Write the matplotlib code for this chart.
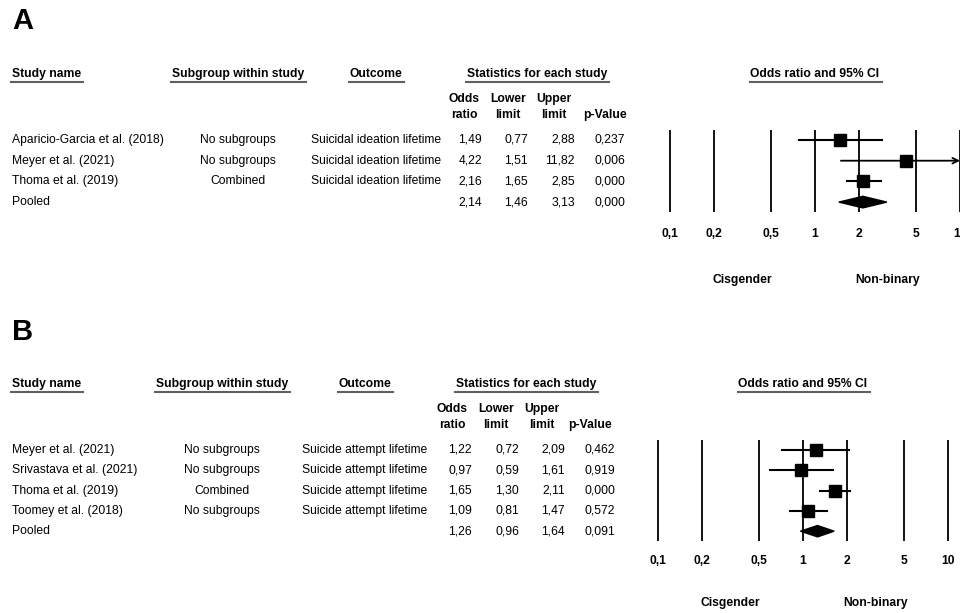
import numpy as np
import matplotlib.pyplot as plt
from matplotlib.patches import Polygon

plt.rcParams['font.family'] = ['Liberation Sans', 'DejaVu Sans']

# Panel A: suicidal ideation
a_studies = ['Aparicio-Garcia et al. (2018)', 'Meyer et al. (2021)', 'Thoma et al. (2019)']
a_subgroups = ['No subgroups', 'No subgroups', 'Combined']
a_outcomes = ['Suicidal ideation lifetime'] * 3
a_or = [1.49, 4.22, 2.16]
a_lower = [0.77, 1.51, 1.65]
a_upper = [2.88, 11.82, 2.85]
a_p = [0.237, 0.006, 0.000]
a_pooled = [2.14, 1.46, 3.13, 0.000]

# Panel B: suicide attempt
b_studies = ['Meyer et al. (2021)', 'Srivastava et al. (2021)', 'Thoma et al. (2019)',
             'Toomey et al. (2018)']
b_subgroups = ['No subgroups', 'No subgroups', 'Combined', 'No subgroups']
b_outcomes = ['Suicide attempt lifetime'] * 4
b_or = [1.22, 0.97, 1.65, 1.09]
b_lower = [0.72, 0.59, 1.30, 0.81]
b_upper = [2.09, 1.61, 2.11, 1.47]
b_p = [0.462, 0.919, 0.000, 0.572]
b_pooled = [1.26, 0.96, 1.64, 0.091]

ticks = [0.1, 0.2, 0.5, 1, 2, 5, 10]
tick_labels = ['0,1', '0,2', '0,5', '1', '2', '5', '10']
x_max = 10

W, H = 960, 613
FS = 8.7

fig = plt.figure(figsize=(W / 100, H / 100), dpi=100)
bg = fig.add_axes([0, 0, 1, 1])
bg.set_xlim(0, W)
bg.set_ylim(H, 0)
bg.axis('off')

underlined = []


def fmt(v, nd=2):
    return f'{v:.{nd}f}'.replace('.', ',')


def header(x, y, s, ha='left'):
    t = bg.text(x, y, s, ha=ha, va='center', fontsize=FS, fontweight='bold')
    underlined.append((t, y + 8))


def draw_panel(letter, lay, studies, subgroups, outcomes, ors, lows, highs, ps, pooled):
    bg.text(12, lay['letter_y'], letter, fontsize=21, fontweight='bold', va='center')

    hy = lay['head_y']
    header(12, hy, 'Study name')
    header(lay['sub_x'], hy, 'Subgroup within study', ha='center')
    header(lay['out_x'], hy, 'Outcome', ha='center')
    header(lay['stat_x'], hy, 'Statistics for each study', ha='center')

    sub1, sub2 = lay['sub_y']
    for cx, top, bot in zip(lay['col_head_x'],
                            ['Odds', 'Lower', 'Upper', ''],
                            ['ratio', 'limit', 'limit', 'p-Value']):
        bg.text(cx, sub1, top, ha='center', va='center', fontsize=FS, fontweight='bold')
        bg.text(cx, sub2, bot, ha='center', va='center', fontsize=FS, fontweight='bold')

    rows = [lay['row0'] + i * lay['step'] for i in range(len(studies) + 1)]
    names = studies + ['Pooled']
    for i, y in enumerate(rows):
        bg.text(12, y, names[i], va='center', fontsize=FS)
        if i < len(studies):
            bg.text(lay['sub_x'], y, subgroups[i], ha='center', va='center', fontsize=FS)
            bg.text(lay['out_x'], y, outcomes[i], ha='center', va='center', fontsize=FS)
            vals = [fmt(ors[i]), fmt(lows[i]), fmt(highs[i]), fmt(ps[i], 3)]
        else:
            vals = [fmt(pooled[0]), fmt(pooled[1]), fmt(pooled[2]), fmt(pooled[3], 3)]
        for rx, v in zip(lay['col_right'], vals):
            bg.text(rx, y, v, ha='right', va='center', fontsize=FS)

    # forest plot on a log axis, 0.1 placed at lay['x01'], one decade = lay['dec'] px
    left = 630
    lo_lim = 10 ** (-1 - (lay['x01'] - left) / lay['dec'])
    hi_lim = 10 ** (-1 + (W - lay['x01']) / lay['dec'])
    top, bottom = lay['panel']
    ax = fig.add_axes([left / W, 1 - bottom / H, (W - left) / W, (bottom - top) / H])
    ax.set_xscale('log')
    ax.set_xlim(lo_lim, hi_lim)
    ax.set_ylim(bottom, top)
    ax.axis('off')
    ax.patch.set_alpha(0)

    y_top = rows[0] - lay['step'] / 2
    y_bot = rows[-1] + lay['step'] / 2
    for t in ticks:
        ax.plot([t, t], [y_top, y_bot], color='black', lw=1.3, solid_capstyle='butt')
    for t, lab in zip(ticks, tick_labels):
        ax.text(t, lay['tick_y'], lab, ha='center', va='center', fontsize=FS,
                fontweight='bold', clip_on=False)

    for i in range(len(studies)):
        y = rows[i]
        if highs[i] > x_max:
            ax.annotate('', xy=(x_max, y), xytext=(lows[i], y),
                        arrowprops=dict(arrowstyle='->', lw=1.3, color='black',
                                        shrinkA=0, shrinkB=0))
        else:
            ax.plot([lows[i], highs[i]], [y, y], color='black', lw=1.5)
        ax.plot(ors[i], y, marker='s', color='black', markersize=8)

    yp = rows[-1]
    h = lay['step'] * 0.28
    ax.add_patch(Polygon([[pooled[1], yp], [pooled[0], yp - h], [pooled[2], yp],
                          [pooled[0], yp + h]], closed=True, color='black'))

    t = ax.text(1, lay['head_y'], 'Odds ratio and 95% CI', ha='center', va='center',
                fontsize=FS, fontweight='bold')
    underlined.append((t, lay['head_y'] + 8))
    ax.text(10 ** -0.5, lay['side_y'], 'Cisgender', ha='center', va='center',
            fontsize=FS, fontweight='bold')
    ax.text(10 ** 0.5, lay['side_y'], 'Non-binary', ha='center', va='center',
            fontsize=FS, fontweight='bold')


lay_a = dict(letter_y=21, head_y=74, sub_y=(99, 115), row0=140, step=20.7,
             tick_y=234, side_y=280, sub_x=238, out_x=376, stat_x=537,
             col_head_x=[464, 508, 554, 605], col_right=[482, 528, 575, 625],
             x01=670, dec=145, panel=(0, 306))
lay_b = dict(letter_y=332, head_y=384, sub_y=(409, 425), row0=450, step=20.3,
             tick_y=561, side_y=603, sub_x=222, out_x=365, stat_x=526,
             col_head_x=[452, 496, 542, 590], col_right=[472, 519, 565, 615],
             x01=658, dec=145, panel=(306, 613))

draw_panel('A', lay_a, a_studies, a_subgroups, a_outcomes, a_or, a_lower, a_upper, a_p, a_pooled)
draw_panel('B', lay_b, b_studies, b_subgroups, b_outcomes, b_or, b_lower, b_upper, b_p, b_pooled)

# grey underlines below the bold column headings
fig.canvas.draw()
renderer = fig.canvas.get_renderer()
inv = bg.transData.inverted()
for t, uy in underlined:
    bb = t.get_window_extent(renderer)
    x0 = inv.transform((bb.x0, 0))[0]
    x1 = inv.transform((bb.x1, 0))[0]
    bg.plot([x0 - 1, x1 + 2], [uy, uy], color='#606060', lw=1.5)

fig.savefig('out.png', dpi=100)
